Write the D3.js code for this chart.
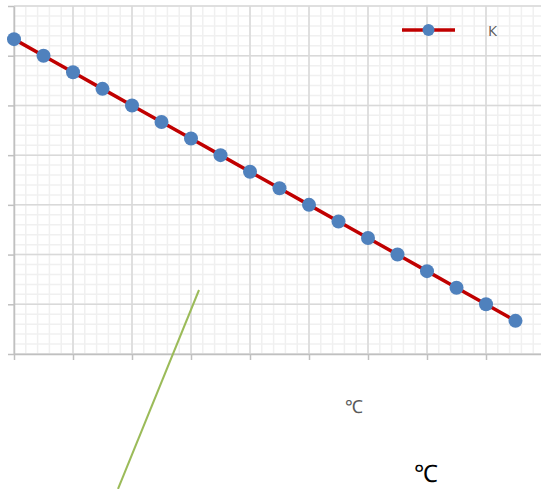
<!DOCTYPE html>
<html>
<head>
<meta charset="utf-8">
<script src="https://cdn.jsdelivr.net/npm/d3@7"></script>
<style>
body{margin:0;background:#fff;}
svg{display:block;}
</style>
</head>
<body>
<div id="chart"></div>
<script>
// data
var xValues=[0,1,2,3,4,5,6,7,8,9,10,11,12,13,14,15,16,17];
var yValues=[95,90,85,80,75,70,65,60,55,50,45,40,35,30,25,20,15,10];
var seriesName="К";
var unitSmall="℃";
var unitBig="℃";

var width=541,height=489,
    margin={left:14,top:6,right:-4,bottom:135};

var svg=d3.select("#chart").append("svg")
    .attr("width",width)
    .attr("height",height);

var x=d3.scaleLinear().domain([0,18]).range([margin.left,width-margin.right]);
var y=d3.scaleLinear().domain([0,105]).range([height-margin.bottom,margin.top]);

var xMinor=d3.range(0,18.01,0.4),
    xMajor=d3.range(0,18.01,2),
    yMinor=d3.range(0,105.01,3),
    yMajor=d3.range(0,105.01,15);

var grid=svg.append("g");
//minor grid
grid.selectAll(".vminor").data(xMinor).enter().append("line")
    .attr("x1",d=>x(d)).attr("x2",d=>x(d))
    .attr("y1",y(0)).attr("y2",y(105))
    .attr("stroke","#f0f0f0").attr("stroke-width",1.5);
grid.selectAll(".hminor").data(yMinor).enter().append("line")
    .attr("x1",x(0)).attr("x2",x(18))
    .attr("y1",d=>y(d)).attr("y2",d=>y(d))
    .attr("stroke","#f0f0f0").attr("stroke-width",1.5);
//major grid
grid.selectAll(".vmajor").data(xMajor).enter().append("line")
    .attr("x1",d=>x(d)).attr("x2",d=>x(d))
    .attr("y1",y(0)).attr("y2",y(105))
    .attr("stroke","#d9d9d9").attr("stroke-width",1.5);
grid.selectAll(".hmajor").data(yMajor).enter().append("line")
    .attr("x1",x(0)).attr("x2",x(18))
    .attr("y1",d=>y(d)).attr("y2",d=>y(d))
    .attr("stroke","#d9d9d9").attr("stroke-width",1.5);

//axes
var xAxis=svg.append("g")
    .attr("transform","translate(0,"+y(0)+")")
    .call(d3.axisBottom(x).tickValues(xMajor).tickSize(6).tickSizeOuter(0).tickFormat(""));
var yAxis=svg.append("g")
    .attr("transform","translate("+x(0)+",0)")
    .call(d3.axisLeft(y).tickValues(yMajor).tickSize(6).tickSizeOuter(0).tickFormat(""));
svg.selectAll(".domain,.tick line").attr("stroke","#c0c0c0").attr("stroke-width",1.5);

var data=xValues.map((d,i)=>({x:d,y:yValues[i]}));

var line=d3.line().x(d=>x(d.x)).y(d=>y(d.y));
svg.append("path")
    .datum(data)
    .attr("d",line)
    .attr("fill","none")
    .attr("stroke","#c00000")
    .attr("stroke-width",3.5);

svg.selectAll(".pt").data(data).enter().append("circle")
    .attr("cx",d=>x(d.x)).attr("cy",d=>y(d.y))
    .attr("r",7)
    .attr("fill","#4f81bd");

//legend
var legend=svg.append("g").attr("transform","translate(402,30)");
legend.append("line").attr("x1",0).attr("x2",53).attr("y1",0).attr("y2",0)
    .attr("stroke","#c00000").attr("stroke-width",3.5);
legend.append("circle").attr("cx",26.5).attr("cy",0).attr("r",6).attr("fill","#4f81bd");
legend.append("text").attr("x",86).attr("y",6)
    .attr("font-family","Open Sans, sans-serif").attr("font-size",15)
    .attr("fill","#595959").text(seriesName);

//unit labels
svg.append("text").attr("x",345).attr("y",413)
    .attr("font-family","Open Sans, sans-serif").attr("font-size",18)
    .attr("fill","#595959").text(unitSmall);
svg.append("text").attr("x",414).attr("y",482)
    .attr("font-family","Open Sans, sans-serif").attr("font-size",24)
    .attr("fill","#000").text(unitBig);

//green pointer line
svg.append("line")
    .attr("x1",199).attr("y1",290).attr("x2",118).attr("y2",489)
    .attr("stroke","#9bbb59").attr("stroke-width",2);
</script>
</body>
</html>
